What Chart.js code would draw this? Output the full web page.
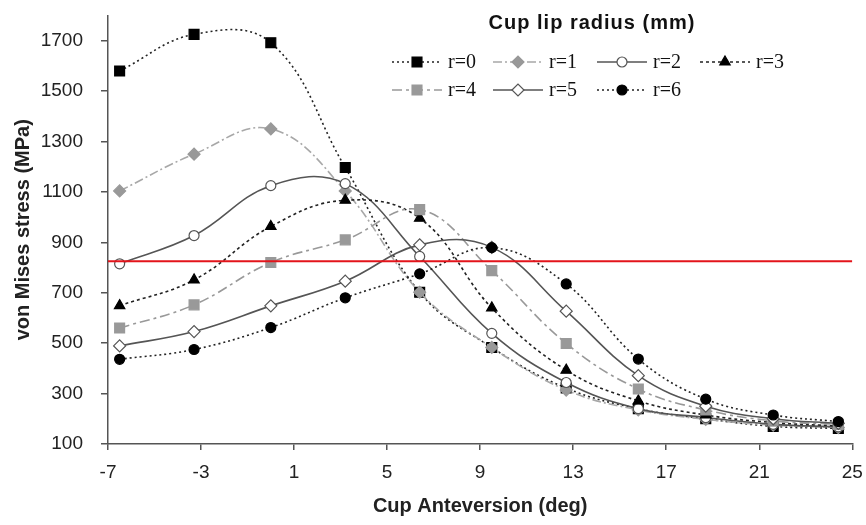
<!DOCTYPE html>
<html>
<head>
<meta charset="utf-8">
<script src="https://cdn.jsdelivr.net/npm/chart.js@4.4.1/dist/chart.umd.min.js"></script>
<style>
  html, body { margin: 0; padding: 0; background: #fff; }
  #wrap { width: 866px; height: 525px; }
</style>
</head>
<body>
<div id="wrap"><canvas id="stress-chart" width="866" height="525"></canvas></div>
<script>
// Cup anteversion angles (deg) at which stress was computed
const anteversion = [-6.5, -3.3, 0, 3.2, 6.4, 9.5, 12.7, 15.8, 18.7, 21.6, 24.4];

// von Mises stress (MPa) for each cup lip radius
const r0 = [1580, 1725, 1692, 1197, 702, 483, 322, 240, 200, 170, 162];
const r1 = [1104, 1250, 1350, 1104, 702, 483, 314, 235, 198, 175, 165];
const r2 = [815, 927, 1125, 1133, 844, 539, 344, 240, 205, 178, 168];
const r3 = [649, 751, 963, 1067, 996, 640, 393, 271, 215, 185, 172];
const r4 = [560, 652, 820, 910, 1030, 788, 499, 318, 235, 192, 178];
const r5 = [489, 546, 648, 746, 890, 880, 627, 371, 250, 200, 182];
const r6 = [436, 475, 562, 680, 775, 879, 735, 437, 278, 215, 189];

// yield limit line
const limitX = [-7, 25];
const limitY = [825, 825];

const xTicks = [-7, -3, 1, 5, 9, 13, 17, 21, 25];
const yTicks = [100, 300, 500, 700, 900, 1100, 1300, 1500, 1700];

const sansFont = 'Arial, "Liberation Sans", sans-serif';

function toPoints(ys) {
    return ys.map((y, i) => ({ x: anteversion[i], y: y }));
}

// Build one series with Excel-like marker/line style
function series(label, values, style, order) {
    return Object.assign({
        label: label,
        data: toPoints(values),
        borderWidth: 1.6,
        tension: 0.4,
        fill: false,
        pointBorderWidth: 1.2,
        order: order
    }, style);
}

const datasets = [
    series('r=0', r0, {
        borderColor: '#222', borderDash: [2, 3],
        pointStyle: 'rect', pointRadius: 7,
        pointBackgroundColor: '#000', pointBorderColor: '#000'
    }, 7),
    series('r=1', r1, {
        borderColor: '#a8a8a8', borderDash: [9, 3, 2, 3],
        pointStyle: 'rectRot', pointRadius: 6,
        pointBackgroundColor: '#999', pointBorderColor: '#999'
    }, 6),
    series('r=2', r2, {
        borderColor: '#555',
        pointStyle: 'circle', pointRadius: 5,
        pointBackgroundColor: '#fff', pointBorderColor: '#555'
    }, 5),
    series('r=3', r3, {
        borderColor: '#222', borderDash: [3, 3],
        pointStyle: 'triangle', pointRadius: 6,
        pointBackgroundColor: '#000', pointBorderColor: '#000'
    }, 4),
    series('r=4', r4, {
        borderColor: '#999', borderDash: [10, 4, 3, 4],
        pointStyle: 'rect', pointRadius: 7,
        pointBackgroundColor: '#999', pointBorderColor: '#999'
    }, 3),
    series('r=5', r5, {
        borderColor: '#555',
        pointStyle: 'rectRot', pointRadius: 6,
        pointBackgroundColor: '#fff', pointBorderColor: '#555'
    }, 2),
    series('r=6', r6, {
        borderColor: '#222', borderDash: [2, 3],
        pointStyle: 'circle', pointRadius: 5,
        pointBackgroundColor: '#000', pointBorderColor: '#000'
    }, 1),
    {
        label: 'limit',
        data: limitX.map((x, i) => ({ x: x, y: limitY[i] })),
        borderColor: '#e3141b',
        borderWidth: 1.8,
        pointRadius: 0,
        tension: 0,
        order: 0,
        skipLegend: true
    }
];

// Legend slots (line start x, row y) in the order of the series
const legendSlots = [
    [392, 62], [493, 62], [597, 62], [700, 62],
    [392, 90], [493, 90], [597, 90]
];

const cupLegend = {
    id: 'cupLegend',
    afterDraw(chart) {
        const ctx = chart.ctx;
        ctx.save();
        ctx.fillStyle = '#111';
        ctx.font = 'bold 20px ' + sansFont;
        ctx.textAlign = 'center';
        ctx.textBaseline = 'middle';
        if ('letterSpacing' in ctx) ctx.letterSpacing = '1px';
        ctx.fillText('Cup lip radius (mm)', 592, 23);
        if ('letterSpacing' in ctx) ctx.letterSpacing = '0px';

        ctx.font = '20px "Times New Roman", "Liberation Serif", serif';
        ctx.textAlign = 'left';
        chart.data.datasets.forEach((ds, i) => {
            if (ds.skipLegend) return;
            const [x0, y] = legendSlots[i];
            // line sample
            ctx.beginPath();
            ctx.setLineDash(ds.borderDash || []);
            ctx.strokeStyle = ds.borderColor;
            ctx.lineWidth = ds.borderWidth;
            ctx.moveTo(x0, y);
            ctx.lineTo(x0 + 50, y);
            ctx.stroke();
            ctx.setLineDash([]);
            // marker
            ctx.fillStyle = ds.pointBackgroundColor;
            ctx.strokeStyle = ds.pointBorderColor;
            ctx.lineWidth = ds.pointBorderWidth;
            Chart.helpers.drawPoint(ctx, {
                pointStyle: ds.pointStyle,
                radius: ds.pointRadius,
                rotation: 0,
                borderWidth: ds.pointBorderWidth
            }, x0 + 25, y);
            // label
            ctx.fillStyle = '#111';
            ctx.fillText(ds.label, x0 + 56, y + 1);
        });
        ctx.restore();
    }
};

new Chart(document.getElementById('stress-chart'), {
    type: 'line',
    data: { datasets: datasets },
    options: {
        responsive: false,
        animation: false,
        devicePixelRatio: 1,
        layout: { padding: { left: 0, top: 15.5, right: 13.7, bottom: 0 } },
        plugins: {
            legend: { display: false },
            tooltip: { enabled: false }
        },
        scales: {
            x: {
                type: 'linear',
                min: -7,
                max: 25,
                afterBuildTicks: s => { s.ticks = xTicks.map(v => ({ value: v })); },
                // fixed box; label overhang must not shrink the plot area
                afterFit: s => { s.height = 81; s.paddingLeft = 0; s.paddingRight = 0; },
                grid: { drawOnChartArea: false, drawTicks: true, tickLength: 6, color: '#555', lineWidth: 1.5 },
                border: { display: true, color: '#555', width: 1.5 },
                ticks: {
                    color: '#222',
                    font: { family: sansFont, size: 19 },
                    padding: 11,
                    maxRotation: 0,
                    autoSkip: false,
                    callback: v => String(v)
                },
                title: {
                    display: true,
                    text: 'Cup Anteversion (deg)',
                    color: '#222',
                    font: { family: sansFont, size: 20, weight: 'bold' },
                    padding: { top: 0, bottom: 7 }
                }
            },
            y: {
                type: 'linear',
                min: 100,
                max: 1800,
                afterBuildTicks: s => { s.ticks = yTicks.map(v => ({ value: v })); },
                afterFit: s => { s.width = 108; s.paddingTop = 0; s.paddingBottom = 0; },
                grid: { drawOnChartArea: false, drawTicks: true, tickLength: 7, color: '#555', lineWidth: 1.5 },
                border: { display: true, color: '#555', width: 1.5 },
                ticks: {
                    color: '#222',
                    font: { family: sansFont, size: 19 },
                    padding: 18,
                    callback: v => String(v)
                },
                title: {
                    display: true,
                    text: 'von Mises stress (MPa)',
                    color: '#222',
                    font: { family: sansFont, size: 20, weight: 'bold' },
                    padding: { top: 11, bottom: 0 }
                }
            }
        }
    },
    plugins: [cupLegend]
});
</script>
</body>
</html>
